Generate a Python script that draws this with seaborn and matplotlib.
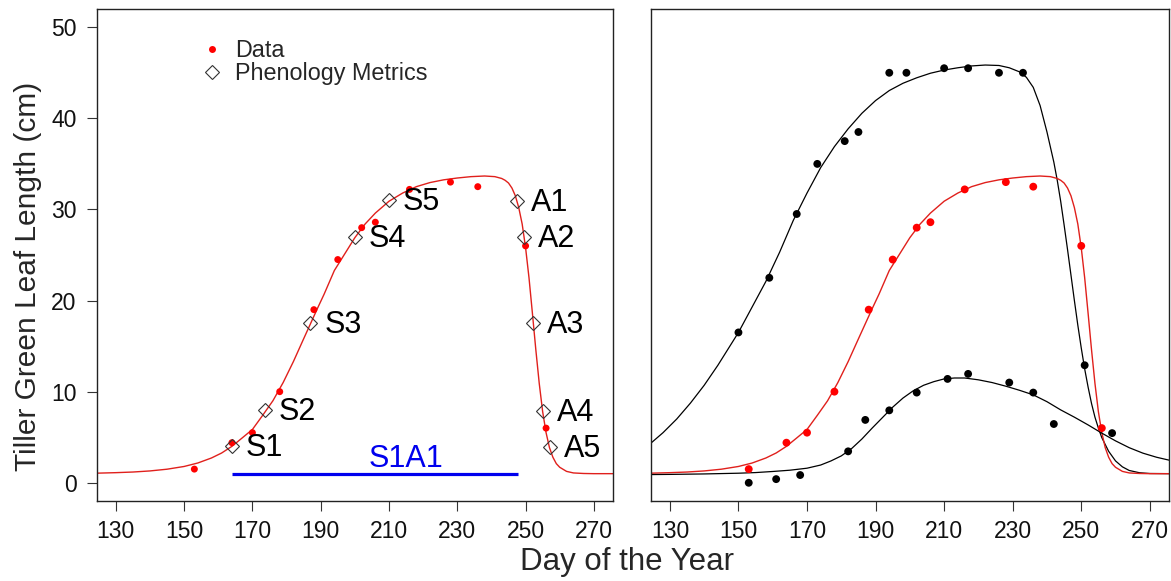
import matplotlib
matplotlib.use("Agg")
import matplotlib.pyplot as plt
from matplotlib.lines import Line2D
import seaborn as sns
import pandas as pd

# ---------------- data ----------------
# observed tiller green leaf length (cm)
red_day = [153, 164, 170, 178, 188, 195, 202, 206, 216, 228, 236, 250, 256]
red_val = [1.5, 4.4, 5.5, 10.0, 19.0, 24.5, 28.0, 28.6, 32.2, 33.0, 32.5, 26.0, 6.0]

upper_day = [150, 159, 167, 173, 181, 185, 194, 199, 210, 217, 226, 233, 251]
upper_val = [16.5, 22.5, 29.5, 35.0, 37.5, 38.5, 45.0, 45.0, 45.5, 45.5, 45.0, 45.0, 12.9]

lower_day = [153, 161, 168, 182, 187, 194, 202, 211, 217, 229, 236, 242, 259]
lower_val = [0.0, 0.4, 0.85, 3.45, 6.9, 7.95, 9.9, 11.4, 11.95, 11.0, 9.9, 6.45, 5.45]

# fitted curves
red_fit_day = [124, 130, 135, 140, 145, 150, 154, 158, 161, 164, 167, 170, 173, 176,
               179, 182, 185, 187, 189, 191, 194, 197, 200, 203, 206, 210, 214, 218,
               222, 226, 230, 234, 238, 241, 243, 244, 245, 246, 247, 248, 249, 250,
               251, 252, 253, 254, 255, 256, 257, 258, 259, 260, 262, 264, 267, 270, 276]
red_fit_val = [1.05, 1.11, 1.18, 1.30, 1.49, 1.79, 2.17, 2.72, 3.27, 4.0, 4.92, 5.85, 7.4, 9.0,
               11.0, 13.3, 15.8, 17.45, 19.1, 20.7, 23.3, 25.1, 26.9, 28.4, 29.6, 30.9, 31.8, 32.5,
               32.95, 33.25, 33.45, 33.6, 33.67, 33.6, 33.4, 33.2, 32.9, 32.35, 31.5, 30.2, 28.4, 25.8,
               22.5, 18.6, 14.6, 10.9, 7.8, 5.5, 3.85, 2.8, 2.1, 1.7, 1.25, 1.08, 1.02, 1.0, 1.0]

upper_fit_day = [124, 128, 132, 136, 140, 144, 148, 150, 154, 158, 162, 166, 170, 174, 178,
                 182, 186, 190, 194, 198, 202, 206, 210, 214, 218, 222, 226, 229, 232, 234,
                 236, 238, 240, 242, 243, 244, 245, 246, 247, 248, 249, 250, 251, 252, 253,
                 254, 255, 256, 258, 260, 262, 264, 267, 270, 276]
upper_fit_val = [4.2, 5.5, 7.0, 8.75, 10.7, 12.9, 15.3, 16.5, 19.3, 22.1, 25.3, 28.8, 31.8, 34.6, 36.9,
                 38.85, 40.55, 41.95, 43.05, 43.85, 44.45, 44.95, 45.3, 45.55, 45.75, 45.85, 45.8, 45.55, 45.1, 44.5,
                 43.4, 41.4, 38.5, 35.2, 33.2, 30.9, 28.3, 25.6, 22.8, 20.0, 17.3, 14.8, 12.5, 10.5, 8.7,
                 7.2, 6.0, 4.95, 3.45, 2.4, 1.75, 1.35, 1.1, 1.02, 1.0]

lower_fit_day = [124, 130, 140, 150, 155, 160, 165, 170, 174, 177, 180, 183, 186, 189, 192,
                 195, 198, 201, 204, 207, 210, 213, 216, 220, 224, 228, 232, 236, 240, 244,
                 248, 252, 256, 260, 264, 268, 272, 276]
lower_fit_val = [0.9, 0.92, 0.97, 1.05, 1.12, 1.24, 1.38, 1.6, 1.95, 2.4, 2.95, 3.75, 4.8, 6.0, 7.15,
                 8.3, 9.3, 10.1, 10.7, 11.1, 11.4, 11.5, 11.5, 11.3, 11.0, 10.6, 10.15, 9.65, 8.9, 8.0,
                 7.2, 6.35, 5.45, 4.6, 3.85, 3.25, 2.8, 2.45]

# phenology metrics
metric_names = ["S1", "S2", "S3", "S4", "S5", "A1", "A2", "A3", "A4", "A5"]
metric_day = [164.0, 173.7, 187.0, 200.1, 210.0, 247.5, 249.5, 252.3, 255.1, 257.1]
metric_val = [4.0, 8.0, 17.5, 27.0, 31.0, 30.9, 27.0, 17.5, 7.9, 3.9]

season_start, season_end, season_level = 164.0, 247.8, 1.0
season_label = "S1A1"

x_ticks = [130, 150, 170, 190, 210, 230, 250, 270]
y_ticks = [0, 10, 20, 30, 40, 50]

# ---------------- styling ----------------
sns.set_theme(style="white")
plt.rcParams["font.family"] = ["Liberation Sans", "DejaVu Sans"]

W, H = 1171, 581
fig = plt.figure(figsize=(W / 100, H / 100), dpi=100)

def px_axes(x0, x1, y0, y1):
    return fig.add_axes([x0 / W, 1 - y1 / H, (x1 - x0) / W, (y1 - y0) / H])

ax1 = px_axes(96.7, 613.0, 9.0, 501.0)
ax2 = px_axes(650.7, 1169.0, 9.0, 501.0)

RED = "#ff0000"
LINE_RED = "#e0201c"

red_pts = pd.DataFrame({"day": red_day, "val": red_val})
up_pts = pd.DataFrame({"day": upper_day, "val": upper_val})
lo_pts = pd.DataFrame({"day": lower_day, "val": lower_val})
red_fit = pd.DataFrame({"day": red_fit_day, "val": red_fit_val})
up_fit = pd.DataFrame({"day": upper_fit_day, "val": upper_fit_val})
lo_fit = pd.DataFrame({"day": lower_fit_day, "val": lower_fit_val})

# ---- left panel ----
sns.lineplot(data=red_fit, x="day", y="val", ax=ax1, color=LINE_RED, lw=1.0,
             sort=False, estimator=None)
sns.scatterplot(data=red_pts, x="day", y="val", ax=ax1, color=RED, s=25,
                edgecolor="none", zorder=3)
ax1.plot(metric_day, metric_val, linestyle="none", marker="D", markersize=7.3,
         markerfacecolor="none", markeredgecolor="#333333", markeredgewidth=0.8, zorder=4)
for name, d, v in zip(metric_names, metric_day, metric_val):
    ax1.annotate(name, (d, v), xytext=(10, -1.5), textcoords="offset points",
                 ha="left", va="center", fontsize=22, color="black")
ax1.plot([season_start, season_end], [season_level, season_level], color="#0000ee", lw=2.3,
         solid_capstyle="butt", zorder=2)
ax1.text((season_start + season_end) / 2 + 9, season_level - 0.05, season_label,
         color="#0000ee", fontsize=22, ha="center", va="bottom")

handles = [Line2D([], [], linestyle="none", marker="o", markersize=5.0,
                  markerfacecolor=RED, markeredgecolor="none"),
           Line2D([], [], linestyle="none", marker="D", markersize=7.3,
                  markerfacecolor="none", markeredgecolor="#333333", markeredgewidth=0.8)]
ax1.legend(handles, ["Data", "Phenology Metrics"], loc="upper left",
           bbox_to_anchor=(0.17, 0.972), frameon=False, fontsize=16.8,
           handlelength=1.0, handletextpad=0.45, labelspacing=0.0, borderpad=0.2)

# ---- right panel ----
sns.lineplot(data=up_fit, x="day", y="val", ax=ax2, color="black", lw=0.9,
             sort=False, estimator=None)
sns.lineplot(data=red_fit, x="day", y="val", ax=ax2, color=LINE_RED, lw=1.0,
             sort=False, estimator=None)
sns.lineplot(data=lo_fit, x="day", y="val", ax=ax2, color="black", lw=0.9,
             sort=False, estimator=None)
sns.scatterplot(data=up_pts, x="day", y="val", ax=ax2, color="black", s=32,
                edgecolor="none", zorder=3)
sns.scatterplot(data=red_pts, x="day", y="val", ax=ax2, color=RED, s=32,
                edgecolor="none", zorder=3)
sns.scatterplot(data=lo_pts, x="day", y="val", ax=ax2, color="black", s=32,
                edgecolor="none", zorder=3)

for ax in (ax1, ax2):
    ax.set_xlim(124.4, 275.6)
    ax.set_ylim(-2, 52)
    ax.set_xticks(x_ticks)
    ax.set_xlabel("")
    ax.set_ylabel("")
    for sp in ax.spines.values():
        sp.set_color("#222222")
        sp.set_linewidth(1.0)
    ax.tick_params(axis="x", which="both", bottom=True, direction="out", length=7.5,
                   width=0.8, color="#333333", labelsize=16.5, pad=6, labelcolor="#111111")

ax1.set_yticks(y_ticks)
ax1.tick_params(axis="y", left=True, direction="out", length=7.5, width=0.8,
                color="#333333", labelsize=16.5, pad=7, labelcolor="#111111")
ax2.set_yticks(y_ticks)
ax2.tick_params(axis="y", left=False, labelleft=False)

fig.text(28 / W, 1 - 276 / H, "Tiller Green Leaf Length (cm)", rotation=90,
         ha="center", va="center", fontsize=21.5)
fig.text(627.5 / W, 1 - 562 / H, "Day of the Year", ha="center", va="center", fontsize=22.5)

fig.savefig("out.png", dpi=100)
